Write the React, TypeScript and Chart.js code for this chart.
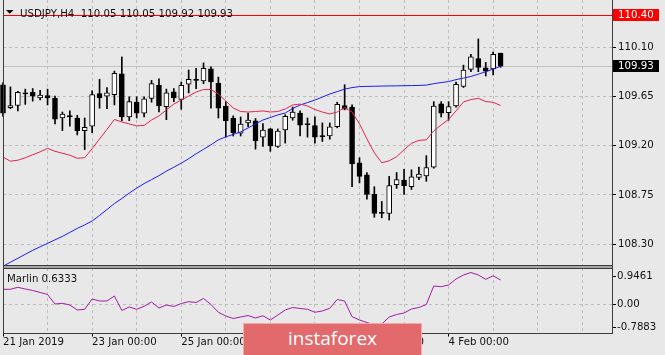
import React, { useEffect, useRef } from 'react';
import { Chart, registerables } from 'chart.js';
Chart.register(...registerables);

const symbolName = 'USDJPY';
const timeframe = 'H4';

const opens = [109.76, 109.55, 109.57, 109.685, 109.69, 109.64, 109.66, 109.635, 109.455, 109.477, 109.455, 109.34, 109.38, 109.68, 109.655, 109.67, 109.86, 109.465, 109.60, 109.50, 109.635, 109.755, 109.56, 109.695, 109.625, 109.765, 109.81, 109.795, 109.905, 109.775, 109.565, 109.455, 109.315, 109.41, 109.43, 109.28, 109.355, 109.195, 109.345, 109.455, 109.50, 109.405, 109.385, 109.295, 109.29, 109.375, 109.57, 109.555, 109.045, 108.935, 108.755, 108.59, 108.58, 108.845, 108.885, 108.825, 108.91, 108.925, 109.005, 109.585, 109.505, 109.565, 109.745, 109.90, 110.00, 109.915, 109.905, 110.05];
const highs = [109.78, 109.74, 109.70, 109.72, 109.725, 109.71, 109.72, 109.655, 109.51, 109.52, 109.48, 109.455, 109.705, 109.81, 109.735, 109.885, 110.015, 109.65, 109.65, 109.65, 109.80, 109.815, 109.72, 109.725, 109.785, 109.895, 109.91, 109.96, 109.925, 109.83, 109.605, 109.475, 109.465, 109.50, 109.45, 109.405, 109.36, 109.355, 109.485, 109.555, 109.52, 109.455, 109.465, 109.41, 109.41, 109.60, 109.76, 109.575, 109.09, 108.955, 108.825, 108.69, 108.92, 108.955, 108.985, 108.98, 109.005, 109.11, 109.605, 109.605, 109.605, 109.785, 109.94, 110.04, 110.18, 109.965, 110.06, 110.05];
const lows = [109.47, 109.54, 109.52, 109.58, 109.61, 109.62, 109.575, 109.40, 109.34, 109.38, 109.30, 109.165, 109.32, 109.545, 109.54, 109.575, 109.43, 109.43, 109.455, 109.465, 109.60, 109.51, 109.44, 109.605, 109.535, 109.685, 109.725, 109.77, 109.545, 109.455, 109.28, 109.29, 109.29, 109.375, 109.17, 109.195, 109.15, 109.185, 109.225, 109.435, 109.29, 109.28, 109.225, 109.24, 109.26, 109.365, 109.53, 108.825, 108.86, 108.71, 108.545, 108.54, 108.52, 108.81, 108.755, 108.80, 108.89, 108.875, 108.995, 109.465, 109.435, 109.555, 109.735, 109.88, 109.88, 109.84, 109.85, 109.92];
const closes = [109.50, 109.57, 109.69, 109.675, 109.655, 109.665, 109.64, 109.445, 109.49, 109.465, 109.34, 109.37, 109.67, 109.64, 109.685, 109.865, 109.465, 109.605, 109.50, 109.63, 109.77, 109.565, 109.685, 109.64, 109.755, 109.81, 109.80, 109.91, 109.785, 109.545, 109.43, 109.32, 109.40, 109.437, 109.245, 109.345, 109.20, 109.335, 109.47, 109.51, 109.39, 109.395, 109.28, 109.285, 109.375, 109.58, 109.535, 109.035, 108.92, 108.755, 108.58, 108.58, 108.835, 108.89, 108.835, 108.915, 108.94, 109.00, 109.565, 109.50, 109.56, 109.765, 109.895, 110.015, 109.92, 109.885, 110.04, 109.93];

const fastMA = [109.097, 109.059, 109.068, 109.091, 109.118, 109.145, 109.177, 109.15, 109.132, 109.114, 109.086, 109.091, 109.173, 109.264, 109.351, 109.442, 109.419, 109.401, 109.383, 109.387, 109.437, 109.474, 109.529, 109.583, 109.62, 109.656, 109.693, 109.716, 109.716, 109.675, 109.611, 109.547, 109.515, 109.51, 109.515, 109.52, 109.51, 109.515, 109.538, 109.574, 109.583, 109.565, 109.533, 109.51, 109.492, 109.51, 109.551, 109.51, 109.401, 109.264, 109.136, 109.045, 109.063, 109.10, 109.164, 109.223, 109.25, 109.255, 109.337, 109.392, 109.442, 109.52, 109.602, 109.624, 109.635, 109.606, 109.599, 109.57];
const slowMA = [108.096, 108.133, 108.169, 108.206, 108.242, 108.274, 108.306, 108.338, 108.37, 108.406, 108.443, 108.475, 108.511, 108.562, 108.616, 108.671, 108.717, 108.767, 108.812, 108.854, 108.89, 108.927, 108.968, 109.004, 109.041, 109.082, 109.127, 109.168, 109.209, 109.255, 109.282, 109.305, 109.328, 109.364, 109.401, 109.437, 109.46, 109.483, 109.501, 109.542, 109.574, 109.597, 109.62, 109.647, 109.675, 109.697, 109.72, 109.734, 109.743, 109.745, 109.746, 109.748, 109.749, 109.75, 109.751, 109.752, 109.754, 109.757, 109.77, 109.78, 109.789, 109.807, 109.821, 109.836, 109.857, 109.88, 109.903, 109.93];

const marlin = [0.514, 0.514, 0.582, 0.524, 0.473, 0.404, 0.336, 0.010, 0.034, -0.024, -0.195, -0.171, 0.182, 0.113, 0.113, 0.284, -0.212, -0.092, -0.171, -0.068, 0.079, -0.127, -0.024, -0.075, 0.027, 0.089, 0.062, 0.199, -0.007, -0.274, -0.40, -0.486, -0.435, -0.384, -0.469, -0.394, -0.538, -0.366, -0.195, -0.11, -0.144, -0.171, -0.274, -0.229, -0.137, 0.164, 0.113, -0.425, -0.538, -0.623, -0.709, -0.675, -0.435, -0.349, -0.298, -0.161, -0.11, -0.007, 0.627, 0.603, 0.661, 0.866, 1.003, 1.089, 1.003, 0.856, 0.976, 0.832];
const marlinName = 'Marlin';
const marlinLast = '0.6333';

const priceTicks = [108.30, 108.75, 109.20, 109.65, 110.10];
const levelPrice = 110.40;
const bidPrice = 109.93;
const marlinTicks = [-0.7883, 0, 0.9461];
const dateTickIndex = [0, 12, 24, 36, 48, 60];
const dateTickLabels = ['21 Jan 2019', '23 Jan 00:00', '25 Jan 00:00', '29 Jan 00:00', '31 Jan 00:00', '4 Feb 00:00'];

const BG = '#e8e8e8';
const GRID = '#bdbdbd';
const FRAME = '#3c3c3c';
const FONT = 'DejaVu Sans';
const FSIZE = 10.2;

export default function App() {
  const mainRef = useRef<HTMLCanvasElement>(null);
  const indRef = useRef<HTMLCanvasElement>(null);

  useEffect(() => {
    document.body.style.margin = '0';
    const idx = opens.map((_, i) => i);
    const bodies = idx.map((i) => ({ x: i, y: [Math.min(opens[i], closes[i]), Math.max(opens[i], closes[i])] }));
    const wicks = idx.map((i) => ({ x: i, y: [lows[i], highs[i]] }));
    const bodyColors = idx.map((i) => (closes[i] >= opens[i] ? '#ffffff' : '#000000'));

    const zeroPad = (s: any) => {
      s.paddingTop = 0; s.paddingBottom = 0; s.paddingLeft = 0; s.paddingRight = 0;
    };

    const mainDecor = {
      id: 'mainDecor',
      beforeDraw(chart: any) {
        const { ctx, width, height } = chart;
        ctx.save();
        ctx.fillStyle = BG;
        ctx.fillRect(0, 0, width, height);
        ctx.restore();
      },
      beforeDatasetsDraw(chart: any) {
        const { ctx, chartArea: a } = chart;
        const y = Math.round(chart.scales.y.getPixelForValue(bidPrice)) + 0.5;
        ctx.save();
        ctx.strokeStyle = '#c4c4c4';
        ctx.lineWidth = 1;
        ctx.beginPath();
        ctx.moveTo(a.left, y);
        ctx.lineTo(a.right, y);
        ctx.stroke();
        ctx.restore();
      },
      afterDatasetsDraw(chart: any) {
        const { ctx, chartArea: a } = chart;
        const y = Math.round(chart.scales.y.getPixelForValue(levelPrice)) + 0.5;
        ctx.save();
        ctx.strokeStyle = '#ff0000';
        ctx.lineWidth = 1;
        ctx.beginPath();
        ctx.moveTo(a.left, y);
        ctx.lineTo(a.right, y);
        ctx.stroke();
        ctx.restore();
      },
      afterDraw(chart: any) {
        const { ctx, chartArea: a, height } = chart;
        ctx.save();
        // pane separator band
        ctx.fillStyle = '#a6a6a6';
        ctx.fillRect(a.left, a.bottom, a.right - a.left + 1, height - a.bottom);
        ctx.strokeStyle = FRAME;
        ctx.lineWidth = 1;
        ctx.beginPath();
        ctx.moveTo(a.left + 0.5, 0);
        ctx.lineTo(a.left + 0.5, height);
        ctx.moveTo(a.right + 0.5, 0);
        ctx.lineTo(a.right + 0.5, height);
        ctx.moveTo(a.left, a.bottom + 0.5);
        ctx.lineTo(a.right + 1, a.bottom + 0.5);
        ctx.stroke();
        // price boxes
        const yScale = chart.scales.y;
        const boxes = [
          { v: levelPrice, bg: '#ff0000' },
          { v: bidPrice, bg: '#000000' },
        ];
        ctx.font = `${FSIZE}px "${FONT}"`;
        ctx.textBaseline = 'middle';
        ctx.textAlign = 'left';
        boxes.forEach((b) => {
          const py = Math.round(yScale.getPixelForValue(b.v));
          ctx.fillStyle = b.bg;
          ctx.fillRect(a.right + 1, py - 6, 46, 12);
          ctx.fillStyle = '#ffffff';
          ctx.fillText(b.v.toFixed(2), a.right + 6, py + 0.5);
        });
        // title
        ctx.fillStyle = '#000000';
        ctx.beginPath();
        ctx.moveTo(6, 10);
        ctx.lineTo(13.5, 10);
        ctx.lineTo(9.75, 13.8);
        ctx.closePath();
        ctx.fill();
        ctx.textBaseline = 'alphabetic';
        const last = opens.length - 1;
        const title = `${symbolName},${timeframe}  ${opens[last].toFixed(2)} ${highs[last].toFixed(2)} ${lows[last].toFixed(2)} ${closes[last].toFixed(2)}`;
        ctx.fillStyle = '#111111';
        ctx.fillText(title, 20, 16.7);
        ctx.restore();
      },
    };

    const main = new Chart(mainRef.current as HTMLCanvasElement, {
      type: 'bar',
      data: {
        datasets: [
          {
            type: 'line',
            data: idx.map((i) => ({ x: i, y: fastMA[i] })),
            borderColor: '#e2254f',
            borderWidth: 1,
            pointRadius: 0,
            tension: 0,
            fill: false,
            order: -2,
          } as any,
          {
            type: 'line',
            data: idx.map((i) => ({ x: i, y: slowMA[i] })),
            borderColor: '#1c1cf5',
            borderWidth: 1,
            pointRadius: 0,
            tension: 0,
            fill: false,
            order: -1,
          } as any,
          {
            type: 'bar',
            data: bodies,
            backgroundColor: bodyColors,
            borderColor: '#000000',
            borderWidth: 1,
            borderSkipped: false,
            barThickness: 5,
            grouped: false,
            order: 0,
            clip: { left: 4, top: 0, right: 0, bottom: 0 },
          } as any,
          {
            type: 'bar',
            data: wicks,
            backgroundColor: '#000000',
            borderWidth: 0,
            barThickness: 1,
            grouped: false,
            order: 1,
            clip: { left: 4, top: 0, right: 0, bottom: 0 },
          } as any,
        ],
      },
      options: {
        animation: false,
        responsive: false,
        devicePixelRatio: 1,
        events: [],
        layout: { padding: { left: 3, right: 0, top: 0, bottom: 3 } },
        plugins: { legend: { display: false }, tooltip: { enabled: false } },
        scales: {
          x: {
            type: 'linear',
            min: 0,
            max: 82,
            offset: false,
            ticks: { display: false, stepSize: 6, autoSkip: false },
            grid: { color: GRID, drawTicks: false, offset: false },
            border: { display: false, dash: [3, 3] },
            afterFit: (s: any) => { s.height = 0; zeroPad(s); },
          },
          y: {
            type: 'linear',
            position: 'right',
            min: 108.1075,
            max: 110.537,
            afterBuildTicks: (s: any) => { s.ticks = priceTicks.map((v) => ({ value: v })); },
            ticks: {
              callback: (v: any) => Number(v).toFixed(2),
              font: { family: FONT, size: FSIZE },
              color: '#111111',
              padding: 2,
              autoSkip: false,
            },
            grid: { color: GRID, tickLength: 4, tickColor: '#000000' },
            border: { display: false, dash: [3, 3] },
            afterFit: (s: any) => { s.width = 53; zeroPad(s); },
          },
        },
      } as any,
      plugins: [mainDecor],
    });

    const indDecor = {
      id: 'indDecor',
      beforeDraw(chart: any) {
        const { ctx, width, height } = chart;
        ctx.save();
        ctx.fillStyle = BG;
        ctx.fillRect(0, 0, width, height);
        ctx.restore();
      },
      afterDraw(chart: any) {
        const { ctx, chartArea: a } = chart;
        ctx.save();
        ctx.strokeStyle = FRAME;
        ctx.lineWidth = 1;
        ctx.beginPath();
        ctx.moveTo(a.left + 0.5, 0);
        ctx.lineTo(a.left + 0.5, a.bottom + 1);
        ctx.moveTo(a.right + 0.5, 0);
        ctx.lineTo(a.right + 0.5, a.bottom + 1);
        ctx.moveTo(a.left, 0.5);
        ctx.lineTo(a.right + 1, 0.5);
        ctx.moveTo(a.left, Math.round(a.bottom) + 0.5);
        ctx.lineTo(a.right + 1, Math.round(a.bottom) + 0.5);
        ctx.stroke();
        ctx.font = `${FSIZE}px "${FONT}"`;
        ctx.fillStyle = '#111111';
        ctx.textAlign = 'left';
        ctx.textBaseline = 'alphabetic';
        ctx.fillText(`${marlinName} ${marlinLast}`, 7, 14.3);
        ctx.restore();
      },
    };

    const ind = new Chart(indRef.current as HTMLCanvasElement, {
      type: 'line',
      data: {
        datasets: [
          {
            data: idx.map((i) => ({ x: i, y: marlin[i] })),
            borderColor: '#a21ca6',
            borderWidth: 1,
            pointRadius: 0,
            tension: 0,
            fill: false,
          },
        ],
      },
      options: {
        animation: false,
        responsive: false,
        devicePixelRatio: 1,
        events: [],
        layout: { padding: { left: 3, right: 0, top: 0, bottom: 0 } },
        plugins: { legend: { display: false }, tooltip: { enabled: false } },
        scales: {
          x: {
            type: 'linear',
            min: 0,
            max: 82,
            offset: false,
            ticks: {
              stepSize: 6,
              autoSkip: false,
              maxRotation: 0,
              minRotation: 0,
              align: 'start',
              padding: 0,
              font: { family: FONT, size: FSIZE },
              color: '#111111',
              callback: (v: any) => {
                const k = dateTickIndex.indexOf(Number(v));
                return k >= 0 ? dateTickLabels[k] : '';
              },
            },
            grid: {
              color: GRID,
              offset: false,
              tickLength: 4,
              tickColor: (c: any) => (c.tick && dateTickIndex.includes(c.tick.value) ? '#000000' : 'rgba(0,0,0,0)'),
            },
            border: { display: false, dash: [3, 3] },
            afterFit: (s: any) => { s.height = 22.5; zeroPad(s); },
          },
          y: {
            type: 'linear',
            position: 'right',
            min: -0.966,
            max: 1.243,
            afterBuildTicks: (s: any) => { s.ticks = marlinTicks.map((v) => ({ value: v })); },
            ticks: {
              callback: (v: any) => (Number(v) === 0 ? '0.00' : Number(v).toFixed(4)),
              font: { family: FONT, size: FSIZE },
              color: '#111111',
              padding: 1,
              autoSkip: false,
            },
            grid: {
              color: (c: any) => (c.tick && c.tick.value === 0 ? GRID : 'rgba(0,0,0,0)'),
              tickLength: 4,
              tickColor: '#000000',
            },
            border: { display: false, dash: [3, 3] },
            afterFit: (s: any) => { s.width = 53; zeroPad(s); },
          },
        },
      } as any,
      plugins: [indDecor],
    });

    return () => {
      main.destroy();
      ind.destroy();
    };
  }, []);

  return (
    <div style={{ position: 'relative', width: 665, height: 355, background: BG, overflow: 'hidden' }}>
      <canvas ref={mainRef} width={665} height={268} style={{ position: 'absolute', left: 0, top: 0, display: 'block' }} />
      <canvas ref={indRef} width={665} height={87} style={{ position: 'absolute', left: 0, top: 268, display: 'block' }} />
      <div
        style={{
          position: 'absolute',
          left: 243,
          top: 323,
          width: 179,
          height: 34,
          boxSizing: 'border-box',
          background: '#e36a6c',
          border: '1px solid #f2a9aa',
          color: '#ffffff',
          fontFamily: '"Open Sans", sans-serif',
          fontSize: 19,
          lineHeight: '28px',
          textAlign: 'center',
        }}
      >
        instaforex
      </div>
    </div>
  );
}
